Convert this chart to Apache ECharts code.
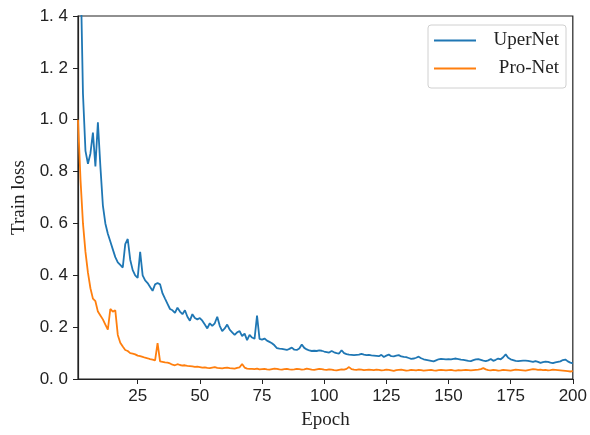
<!DOCTYPE html>
<html>
<head>
<meta charset="utf-8">
<script src="https://cdn.jsdelivr.net/npm/echarts@6/dist/echarts.min.js"></script>
<style>
html,body{margin:0;padding:0;background:#fff;}
#chart{width:590px;height:435px;}
</style>
</head>
<body>
<div id="chart"></div>
<script>
// Data (epochs 1..200)
const seriesNames = ['UperNet', 'Pro-Net'];
const xTicks = [25, 50, 75, 100, 125, 150, 175, 200];
const yTicks = [0, 0.2, 0.4, 0.6, 0.8, 1.0, 1.2, 1.4];

const uperNet = [
  2.2, 1.6, 1.1, 0.88, 0.83, 0.87, 0.95, 0.82, 0.99, 0.82,
  0.67, 0.60, 0.56, 0.53, 0.50, 0.47, 0.45, 0.44, 0.43, 0.52,
  0.54, 0.46, 0.42, 0.40, 0.39, 0.49, 0.40, 0.38, 0.37, 0.355,
  0.34, 0.365, 0.37, 0.365, 0.33, 0.31, 0.29, 0.27, 0.265, 0.255,
  0.275, 0.26, 0.25, 0.265, 0.24, 0.225, 0.25, 0.235, 0.23, 0.235,
  0.225, 0.21, 0.195, 0.215, 0.205, 0.215, 0.24, 0.205, 0.185, 0.195,
  0.21, 0.19, 0.18, 0.17, 0.18, 0.185, 0.165, 0.175, 0.15, 0.17,
  0.16, 0.155, 0.245, 0.155, 0.152, 0.156, 0.148, 0.143, 0.138, 0.13,
  0.119, 0.117, 0.116, 0.114, 0.112, 0.116, 0.121, 0.113, 0.112, 0.118,
  0.133, 0.12, 0.114, 0.11, 0.108, 0.109, 0.108, 0.11, 0.109, 0.106,
  0.104, 0.102, 0.108, 0.103, 0.1, 0.098, 0.111, 0.1, 0.096, 0.094,
  0.093, 0.092, 0.093, 0.094, 0.097, 0.094, 0.092, 0.093, 0.091, 0.09,
  0.089, 0.088, 0.093, 0.085, 0.09, 0.094, 0.088, 0.087, 0.09, 0.092,
  0.087, 0.085, 0.084, 0.081, 0.078, 0.079, 0.082, 0.086, 0.08, 0.076,
  0.074, 0.072, 0.07, 0.068, 0.072, 0.076, 0.078, 0.077, 0.076, 0.077,
  0.076, 0.078, 0.079, 0.077, 0.075, 0.074, 0.072, 0.07, 0.069, 0.073,
  0.076, 0.077, 0.074, 0.071, 0.069, 0.072, 0.077, 0.07, 0.074, 0.079,
  0.076, 0.084, 0.095, 0.082, 0.076, 0.073, 0.07, 0.069, 0.07, 0.071,
  0.071, 0.07, 0.068, 0.066, 0.069, 0.066, 0.062, 0.065, 0.067, 0.066,
  0.063, 0.061, 0.064, 0.066, 0.068, 0.073, 0.075, 0.068, 0.063, 0.06
];

const proNet = [
  1.0, 0.77, 0.60, 0.49, 0.41, 0.35, 0.31, 0.30, 0.26, 0.245,
  0.23, 0.21, 0.19, 0.27, 0.26, 0.265, 0.17, 0.14, 0.125, 0.112,
  0.108, 0.1, 0.098, 0.095, 0.09, 0.088, 0.085, 0.082, 0.08, 0.077,
  0.075, 0.072, 0.138, 0.068, 0.066, 0.064, 0.063, 0.06, 0.055, 0.053,
  0.057, 0.054, 0.052, 0.053, 0.051, 0.05, 0.049, 0.047, 0.048, 0.046,
  0.044, 0.045, 0.043, 0.042, 0.044, 0.046, 0.043, 0.042, 0.041, 0.043,
  0.044, 0.042, 0.041, 0.04, 0.043, 0.045, 0.058, 0.044, 0.04, 0.039,
  0.039, 0.038, 0.04, 0.037, 0.038, 0.039, 0.037, 0.036, 0.038, 0.04,
  0.039, 0.037, 0.036, 0.038, 0.039, 0.037, 0.036, 0.037, 0.039, 0.038,
  0.036, 0.037, 0.04, 0.038, 0.036, 0.035, 0.037, 0.039, 0.038, 0.036,
  0.035, 0.037, 0.036, 0.034, 0.033, 0.035, 0.037, 0.036, 0.039, 0.046,
  0.038, 0.036, 0.035, 0.037, 0.036, 0.034, 0.035, 0.036, 0.035, 0.034,
  0.036, 0.035, 0.033, 0.034, 0.036, 0.035, 0.033, 0.031, 0.034, 0.035,
  0.036, 0.034, 0.032, 0.033, 0.035, 0.034, 0.033, 0.035, 0.034, 0.032,
  0.033, 0.034, 0.035, 0.033, 0.032, 0.034, 0.035, 0.034, 0.033, 0.034,
  0.035, 0.033, 0.032, 0.034, 0.033, 0.034, 0.035, 0.034, 0.033, 0.034,
  0.035, 0.036, 0.038, 0.042, 0.037, 0.034, 0.033, 0.035, 0.034, 0.032,
  0.033, 0.035, 0.034, 0.033, 0.032, 0.034, 0.036, 0.035, 0.034, 0.033,
  0.032, 0.034, 0.036, 0.038, 0.037, 0.035, 0.036, 0.034, 0.035, 0.033,
  0.034, 0.036, 0.035, 0.034, 0.033, 0.032, 0.031, 0.03, 0.029, 0.03
];

const epochs = uperNet.map((_, i) => i + 1);
const pairs = arr => arr.map((v, i) => [epochs[i], v]);

const sansFont = '"Liberation Sans", Arial, sans-serif';
const serifFont = '"Liberation Serif", "Times New Roman", serif';

const chart = echarts.init(document.getElementById('chart'), null, {renderer: 'canvas'});
chart.setOption({
  animation: false,
  backgroundColor: '#fff',
  grid: {
    left: 78, right: 15, top: 16, bottom: 52,
    show: true, borderColor: '#222', borderWidth: 1.2, backgroundColor: 'transparent'
  },
  legend: {
    orient: 'vertical',
    right: 24, top: 25,
    backgroundColor: '#fff',
    borderColor: '#d0d0d0', borderWidth: 1, borderRadius: 3,
    padding: [6, 7, 10, 6],
    itemGap: 9,
    itemWidth: 42, itemHeight: 2,
    icon: 'rect',
    data: seriesNames,
    formatter: name => '{t|' + name + '}',
    textStyle: {
      fontFamily: serifFont, fontSize: 19, color: '#222',
      rich: {t: {fontFamily: serifFont, fontSize: 19, color: '#222', width: 78, align: 'right', lineHeight: 21}}
    }
  },
  xAxis: {
    type: 'value', min: 1, max: 200,
    name: 'Epoch', nameLocation: 'middle', nameGap: 32,
    nameTextStyle: {fontFamily: serifFont, fontSize: 19, color: '#222'},
    axisLine: {show: true, lineStyle: {color: '#222', width: 1.2}},
    axisTick: {show: true, length: 5, customValues: xTicks, lineStyle: {color: '#222'}},
    axisLabel: {customValues: xTicks, fontFamily: sansFont, fontSize: 17, color: '#222', margin: 9},
    splitLine: {show: false}
  },
  yAxis: {
    type: 'value', min: 0, max: 1.4, interval: 0.2,
    name: 'Train loss', nameLocation: 'middle', nameGap: 45,
    nameTextStyle: {fontFamily: serifFont, fontSize: 19, color: '#222'},
    axisLine: {show: true, lineStyle: {color: '#222', width: 1.2}},
    axisTick: {show: true, length: 5, lineStyle: {color: '#222'}},
    axisLabel: {
      fontFamily: sansFont, fontSize: 17, color: '#222', margin: 10,
      formatter: v => v.toFixed(1).replace('.', '. ')
    },
    splitLine: {show: false}
  },
  series: [
    {
      name: seriesNames[0], type: 'line', data: pairs(uperNet),
      showSymbol: false, symbol: 'none', clip: true,
      lineStyle: {color: '#1f77b4', width: 1.8}, itemStyle: {color: '#1f77b4'}
    },
    {
      name: seriesNames[1], type: 'line', data: pairs(proNet),
      showSymbol: false, symbol: 'none', clip: true,
      lineStyle: {color: '#ff7f0e', width: 1.8}, itemStyle: {color: '#ff7f0e'}
    }
  ]
});
</script>
</body>
</html>
